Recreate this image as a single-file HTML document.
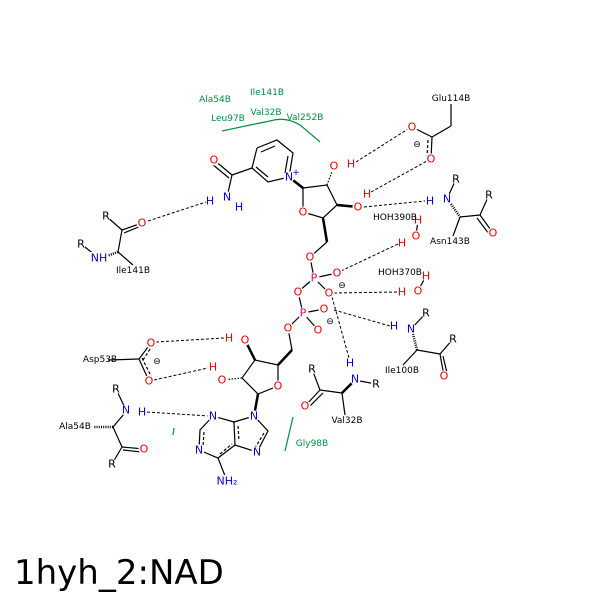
<!DOCTYPE html>
<html><head><style>body{margin:0;background:#fff}svg{display:block}</style></head><body>
<svg width="600" height="600" viewBox="0 0 600 600" xmlns="http://www.w3.org/2000/svg" font-family="DejaVu Sans, Liberation Sans, sans-serif">
<rect width="600" height="600" fill="#fff"/>
<g stroke="#000" stroke-width="1.2" fill="none">
<polyline points="257,148 277,140 293,153 289,177 268,182 252,168 257,148"/>
<line x1="261" y1="152" x2="275" y2="146"/><line x1="288" y1="156" x2="285" y2="173"/><line x1="256" y1="167" x2="268" y2="177"/>
<line x1="252" y1="168" x2="232" y2="175"/><line x1="232" y1="175" x2="214" y2="160"/><line x1="229" y1="178" x2="212" y2="164"/>
<line x1="232" y1="175" x2="227" y2="197"/>
<polyline points="303,188 327,185 337,205 323,218 303,212 303,188"/>
<line x1="289" y1="177" x2="303" y2="188" stroke-width="2.5"/>
<line x1="327" y1="185" x2="334" y2="166" stroke-dasharray="1.5,1.5"/>
<line x1="337" y1="205" x2="358" y2="207" stroke-width="2.5"/>
<line x1="323" y1="218" x2="327" y2="242" stroke-width="2.5"/><line x1="327" y1="242" x2="310" y2="257"/><line x1="310" y1="257" x2="314" y2="278"/>
<line x1="314" y1="278" x2="337" y2="273"/><line x1="314" y1="278" x2="329" y2="293"/><line x1="314" y1="278" x2="298" y2="292"/>
<line x1="298" y1="292" x2="303" y2="313"/><line x1="303" y1="313" x2="324" y2="309"/><line x1="303" y1="313" x2="318" y2="330"/><line x1="303" y1="313" x2="288" y2="328"/>
<line x1="288" y1="328" x2="292" y2="350"/><line x1="292" y1="350" x2="278" y2="365" stroke-width="2.5"/>
<polyline points="278,365 278,386 258,394 242,378 255,360 278,365"/>
<line x1="255" y1="360" x2="245" y2="340" stroke-width="2.5"/>
<line x1="242" y1="378" x2="222" y2="380" stroke-dasharray="1.5,1.5"/>
<line x1="258" y1="394" x2="254" y2="416" stroke-width="2.5"/>
<polyline points="254,416 268,431 257,452 235,445 234,422 254,416"/>
<polyline points="234,422 213,416 200,430 199,450 218,458 235,445"/>
<line x1="238" y1="426" x2="239" y2="441" stroke-dasharray="3,2"/><line x1="264" y1="433" x2="255" y2="448" stroke-dasharray="3,2"/>
<line x1="204" y1="432" x2="203" y2="447" stroke-dasharray="3,2"/><line x1="220" y1="454" x2="232" y2="444" stroke-dasharray="3,2"/>
<line x1="218" y1="458" x2="227" y2="481"/>
<line x1="451" y1="104" x2="451" y2="126"/><line x1="451" y1="126" x2="432" y2="137"/><line x1="432" y1="137" x2="412" y2="127"/><line x1="432" y1="137" x2="431" y2="159"/>
<line x1="428" y1="140" x2="427" y2="157" stroke-dasharray="3,2"/>
<line x1="142" y1="223" x2="122" y2="230"/><line x1="141" y1="226" x2="124" y2="233"/><line x1="122" y1="230" x2="106" y2="216"/><line x1="122" y1="230" x2="118" y2="252"/><line x1="118" y1="252" x2="133" y2="265"/><line x1="99" y1="258" x2="81" y2="244"/>
<line x1="118" y1="252" x2="104" y2="257" stroke-width="2.5" stroke-dasharray="1,1.2"/>
<line x1="447" y1="199" x2="456" y2="179"/><line x1="460" y1="217" x2="480" y2="215"/><line x1="480" y1="215" x2="489" y2="195"/><line x1="480" y1="215" x2="493" y2="233"/><line x1="477" y1="218" x2="489" y2="234"/><line x1="460" y1="217" x2="453" y2="236"/>
<line x1="451" y1="204" x2="460" y2="217" stroke-width="2.5" stroke-dasharray="1,1.2"/>
<line x1="411" y1="329" x2="426" y2="313"/><line x1="417" y1="350" x2="440" y2="354"/><line x1="440" y1="354" x2="453" y2="339"/><line x1="440" y1="354" x2="444" y2="376"/><line x1="443" y1="356" x2="447" y2="373"/><line x1="417" y1="350" x2="403" y2="365"/>
<line x1="413" y1="334" x2="417" y2="350" stroke-width="2.5" stroke-dasharray="1,1.2"/>
<line x1="360" y1="381" x2="376" y2="384"/><line x1="342" y1="393" x2="320" y2="390"/><line x1="320" y1="390" x2="312" y2="369"/><line x1="320" y1="390" x2="305" y2="406"/><line x1="323" y1="393" x2="308" y2="408"/><line x1="342" y1="393" x2="345" y2="415"/>
<line x1="352" y1="383" x2="342" y2="393" stroke-width="2.5"/>
<line x1="108" y1="360" x2="139" y2="359"/><line x1="139" y1="359" x2="151" y2="343"/><line x1="139" y1="359" x2="149" y2="381"/>
<line x1="143" y1="360" x2="152" y2="346" stroke-dasharray="3,2"/><line x1="142" y1="358" x2="152" y2="378" stroke-dasharray="3,2"/>
<line x1="126" y1="410" x2="116" y2="389"/><line x1="122" y1="447" x2="113" y2="427"/><line x1="122" y1="447" x2="144" y2="449"/><line x1="123" y1="450" x2="142" y2="452"/><line x1="122" y1="447" x2="112" y2="464"/>
<line x1="124" y1="414" x2="113" y2="427"/>
<line x1="113" y1="427" x2="94" y2="427" stroke-width="2.5" stroke-dasharray="1,1.2"/>
<line x1="416" y1="236" x2="418" y2="220"/><line x1="418" y1="291" x2="426" y2="276"/>
</g>
<g stroke="#000" stroke-width="1" stroke-dasharray="3,2" fill="none">
<line x1="148" y1="221" x2="206" y2="202"/>
<line x1="356" y1="162" x2="408" y2="129"/>
<line x1="371" y1="192" x2="427" y2="161"/>
<line x1="364" y1="207" x2="425" y2="201"/>
<line x1="341" y1="271" x2="398" y2="244"/>
<line x1="334" y1="293" x2="398" y2="292"/>
<line x1="334" y1="310" x2="390" y2="326"/>
<line x1="332" y1="297" x2="349" y2="358"/>
<line x1="156" y1="342" x2="224" y2="338"/>
<line x1="154" y1="380" x2="208" y2="368"/>
<line x1="147" y1="412" x2="209" y2="416"/>
</g>
<!-- white masks behind atom labels -->
<g fill="#fff">
<circle cx="214" cy="160" r="5.5"/><circle cx="142" cy="223" r="5.5"/><circle cx="303" cy="212" r="5.5"/><circle cx="334" cy="166" r="5.5"/><circle cx="358" cy="207" r="5.5"/>
<circle cx="412" cy="127" r="5.5"/><circle cx="431" cy="159" r="5.5"/><circle cx="493" cy="233" r="5.5"/><circle cx="418" cy="220" r="5"/><circle cx="416" cy="236" r="5.5"/>
<circle cx="310" cy="257" r="5.5"/><circle cx="337" cy="273" r="5.5"/><circle cx="329" cy="293" r="5.5"/><circle cx="298" cy="292" r="5.5"/><circle cx="324" cy="309" r="5.5"/><circle cx="318" cy="330" r="5.5"/><circle cx="288" cy="328" r="5.5"/>
<circle cx="418" cy="291" r="5.5"/><circle cx="426" cy="276" r="5"/><circle cx="444" cy="376" r="5.5"/><circle cx="305" cy="406" r="5.5"/>
<circle cx="278" cy="386" r="5.5"/><circle cx="245" cy="340" r="5.5"/><circle cx="222" cy="380" r="5.5"/>
<circle cx="151" cy="343" r="5.5"/><circle cx="149" cy="381" r="5.5"/><circle cx="144" cy="449" r="5.5"/>
<circle cx="289" cy="177" r="5.5"/><circle cx="227" cy="197" r="5.5"/><circle cx="447" cy="199" r="5.5"/><circle cx="411" cy="329" r="5.5"/><circle cx="355" cy="379" r="5.5"/>
<circle cx="254" cy="416" r="5.5"/><circle cx="257" cy="452" r="5.5"/><circle cx="213" cy="416" r="5.5"/><circle cx="199" cy="450" r="5.5"/><circle cx="126" cy="410" r="5.5"/>
<circle cx="314" cy="278" r="5.5"/><circle cx="303" cy="313" r="5.5"/>
<rect x="90" y="252" width="18" height="12"/><rect x="216" y="475" width="22" height="13"/>
<circle cx="106" cy="216" r="5"/><circle cx="81" cy="244" r="5"/><circle cx="456" cy="179" r="5"/><circle cx="489" cy="195" r="5"/><circle cx="426" cy="313" r="5"/><circle cx="453" cy="339" r="5"/><circle cx="376" cy="384" r="5"/><circle cx="312" cy="369" r="5"/><circle cx="116" cy="389" r="5"/><circle cx="112" cy="464" r="5"/>
</g>
<g stroke="#009040" stroke-width="1.2" fill="none">
<path d="M222,131 Q250,125 270,121 Q285,116 300,125 Q312,135 320,142"/>
<line x1="293" y1="417" x2="285" y2="451"/>
<line x1="174" y1="428" x2="173" y2="435"/>
</g>
<g font-size="9" fill="#009040" text-anchor="middle">
<text x="215" y="102">Ala54B</text><text x="267" y="95">Ile141B</text><text x="228" y="121">Leu97B</text><text x="266" y="115">Val32B</text><text x="305" y="120">Val252B</text><text x="312" y="446">Gly98B</text>
</g>
<g font-size="11" text-anchor="middle" dominant-baseline="central">
<g fill="#e00">
<text x="214" y="160">O</text><text x="142" y="223">O</text><text x="303" y="212">O</text><text x="334" y="166">O</text><text x="351" y="164">H</text><text x="358" y="207">O</text><text x="367" y="194">H</text>
<text x="412" y="127">O</text><text x="431" y="159">O</text><text x="493" y="233">O</text><text x="418" y="220">H</text><text x="416" y="236">O</text><text x="402" y="243">H</text>
<text x="310" y="257">O</text><text x="337" y="273">O</text><text x="329" y="293">O</text><text x="298" y="292">O</text><text x="324" y="309">O</text><text x="318" y="330">O</text><text x="288" y="328">O</text>
<text x="418" y="291">O</text><text x="402" y="292">H</text><text x="426" y="276">H</text><text x="444" y="376">O</text><text x="305" y="406">O</text>
<text x="278" y="386">O</text><text x="245" y="340">O</text><text x="229" y="338">H</text><text x="222" y="380">O</text><text x="213" y="367">H</text>
<text x="151" y="343">O</text><text x="149" y="381">O</text><text x="144" y="449">O</text>
</g>
<g fill="#00c">
<text x="289" y="177">N</text><text x="227" y="197">N</text><text x="210" y="201">H</text><text x="239" y="207">H</text><text x="99" y="258">NH</text>
<text x="447" y="199">N</text><text x="430" y="201">H</text><text x="411" y="329">N</text><text x="394" y="326">H</text><text x="355" y="379">N</text><text x="350" y="363">H</text>
<text x="254" y="416">N</text><text x="257" y="452">N</text><text x="213" y="416">N</text><text x="199" y="450">N</text><text x="227" y="481">NH₂</text>
<text x="126" y="410">N</text><text x="142" y="412">H</text>
</g>
<text x="296" y="173" fill="#00c" font-size="9">+</text>
<g fill="#e0007a"><text x="314" y="278">P</text><text x="303" y="313">P</text></g>
<g fill="#000">
<text x="106" y="216">R</text><text x="81" y="244">R</text><text x="456" y="179">R</text><text x="489" y="195">R</text><text x="426" y="313">R</text><text x="453" y="339">R</text><text x="376" y="384">R</text><text x="312" y="369">R</text>
<text x="116" y="389">R</text><text x="112" y="464">R</text>
<text x="417" y="145" font-size="9">⊖</text><text x="342" y="286" font-size="9">⊖</text><text x="330" y="322" font-size="9">⊖</text><text x="157" y="362" font-size="9">⊖</text>
</g>
<g fill="#000" font-size="9">
<text x="451" y="99">Glu114B</text><text x="133" y="271">Ile141B</text><text x="450" y="242">Asn143B</text><text x="395" y="218">HOH390B</text><text x="400" y="273">HOH370B</text>
<text x="402" y="371">Ile100B</text><text x="347" y="421">Val32B</text><text x="100" y="360">Asp53B</text><text x="75" y="427">Ala54B</text>
</g>
</g>
<text x="14" y="584" font-size="34" fill="#000">1hyh_2:NAD</text>
</svg>
</body></html>
